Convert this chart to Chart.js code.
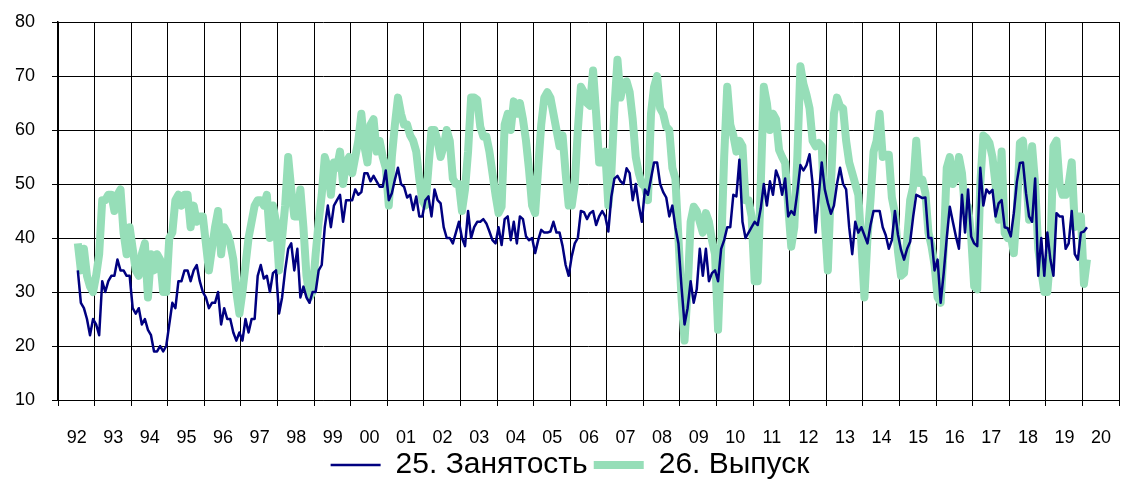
<!DOCTYPE html>
<html>
<head>
<meta charset="utf-8">
<script src="https://cdn.jsdelivr.net/npm/chart.js@4.4.0/dist/chart.umd.min.js"></script>
<style>
  body { margin: 0; background: #fff; }
</style>
</head>
<body>
<canvas id="myChart" width="1140" height="484"></canvas>
<script>
// series start in July 1992, one value per month
const firstYear = 1992;
const firstMonth = 7;
const lastYear = 2021;

const tickLabels = ['92','93','94','95','96','97','98','99','00','01','02','03','04','05',
  '06','07','08','09','10','11','12','13','14','15','16','17','18','19','20'];

const seriesNames = ['25. Занятость', '26. Выпуск'];

const employment = [
  34, 28, 27, 25, 22, 25,                                   // 1992
  24, 22, 32, 30, 32, 33, 33, 36, 34, 34, 33, 33,           // 1993
  27, 26, 27, 24, 25, 23, 22, 19, 19, 20, 19, 20,           // 1994
  24, 28, 27, 32, 32, 34, 34, 32, 34, 35, 32, 30,           // 1995
  29, 27, 28, 28, 30, 24, 27, 25, 25, 22.5, 21, 22.5,       // 1996
  21, 25, 22.5, 25, 25, 33, 35, 32.5, 33, 30, 33.5, 34,     // 1997
  26, 29, 34, 38, 39, 34, 38, 29, 31, 29, 28, 30,           // 1998
  30, 34, 35, 42, 46, 42, 46, 47, 48, 43, 47, 47,           // 1999
  47, 49, 48, 48.5, 52, 52, 50.5, 51.5, 50.5, 49.5, 49.5, 52.5, // 2000
  47, 48.3, 50.8, 53, 50, 49.5, 47.5, 48, 45.2, 47.7, 44, 44,   // 2001
  47, 47.7, 44, 49, 47, 46.4, 42, 40, 40, 39, 41, 43,       // 2002
  40, 38.5, 45, 40, 42, 43, 43, 43.5, 42.7, 41.2, 39.6, 39, // 2003
  42, 38.7, 43.5, 44, 39.6, 43, 39, 44, 43.5, 40.3, 39.6, 40, // 2004
  37.2, 39.6, 41.5, 41, 41, 41.2, 43, 41, 41, 38.5, 35, 33, // 2005
  36.6, 39, 40, 45, 44.8, 43.5, 44.6, 45, 42.4, 44, 45, 44, // 2006
  41.2, 47.7, 51, 51.5, 50.5, 50, 52.9, 52, 47, 50, 46, 43, // 2007
  49, 48, 51, 54, 54, 50, 48.5, 47.5, 44, 46, 42, 39,       // 2008
  31, 24, 27, 32, 28, 30.5, 38, 33, 38, 32, 33.5, 34,       // 2009
  32, 38, 39.6, 42, 42, 48, 47.7, 54.5, 43, 40, 41, 42,     // 2010
  43, 42.4, 45.5, 50, 46, 50.5, 48, 52.5, 51, 48, 51, 44,   // 2011
  45, 44.3, 48.5, 53.5, 52.5, 53.5, 55.5, 50, 41, 47.7, 54, 49, // 2012
  46.5, 44.5, 46, 50, 53, 50, 49, 42, 37, 43, 41, 42,       // 2013
  40.5, 39, 42.4, 45, 45, 45, 42, 40.5, 38, 39.6, 45, 40.6, // 2014
  37.8, 36, 38, 39.3, 44, 48, 47.7, 47.4, 47.5, 40, 40, 34, // 2015
  36, 28, 33.5, 40, 45.8, 43, 40.3, 38, 48, 41, 49, 40.3,   // 2016
  39, 38.5, 53, 46, 49, 48.3, 48.9, 44, 46.4, 47, 42, 41.8, // 2017
  40.3, 44.6, 50.4, 53.9, 54, 48.3, 44, 43, 51, 33, 40, 33, // 2018
  41, 36, 33, 44.6, 44, 44, 38, 39, 45, 37, 36, 41,         // 2019
  41.2, 42                                                  // 2020
];

const output = [
  39, 34, 38, 33, 31, 30,                                   // 1992
  33, 37, 47, 47, 48, 48, 45, 48, 49, 41, 37, 42,           // 1993
  38, 34, 33, 37, 39, 29, 37, 34, 37, 36, 30, 30,           // 1994
  40, 41, 47, 48, 46, 48, 48, 42, 46, 43, 44, 44,           // 1995
  39, 34, 38, 42, 45, 37, 42, 41, 39, 36, 30, 26,           // 1996
  30, 35, 40, 43, 46, 47, 47, 46, 48, 40, 46, 43,           // 1997
  34, 40, 46, 55, 49, 44, 44, 49, 42, 33, 29, 30,           // 1998
  37, 43, 48, 55, 53, 48, 54, 53, 56, 50, 54, 55,           // 1999
  52, 55, 58, 63, 57, 54, 61, 62, 56, 58, 55, 53,           // 2000
  46, 55, 61, 66, 63, 61, 61, 59, 58, 56, 51, 47,           // 2001
  46, 53, 60, 60, 58, 55, 57, 60, 58, 51, 50, 50,           // 2002
  45, 49, 56, 66, 66, 65.6, 60.6, 58.8, 58.8, 56, 52, 48,   // 2003
  44.6, 45.8, 61, 63, 60, 65.3, 63, 65, 62, 58, 52.6, 46,   // 2004
  44.6, 53, 61, 66, 67, 66, 63, 60, 57, 59, 52, 46,         // 2005
  46, 50, 60, 68, 67, 65, 64.5, 71, 63, 54, 54, 56,         // 2006
  46, 52, 64, 73, 66, 68.7, 69, 67, 62, 55, 52, 50,         // 2007
  49.5, 47, 63, 68, 70, 64, 63, 60.6, 60, 53, 51, 40,       // 2008
  29, 21, 30, 43, 45.8, 45, 43, 41, 44.6, 43, 39.6, 37,     // 2009
  23, 38, 55, 68, 61, 59, 56, 58, 57, 47, 47, 44,           // 2010
  32, 32, 50, 68, 65, 60, 63, 62, 56.3, 55, 53.9, 46,       // 2011
  38.4, 42, 55, 71.8, 68.5, 66.5, 64, 58, 57, 57.6, 57, 43, // 2012
  34, 49.5, 63, 66, 64.4, 64, 58, 54, 52, 50, 48, 39,       // 2013
  29, 40, 47, 56, 58, 63, 55, 55.4, 55.4, 47.5, 44.6, 37.5, // 2014
  33, 33.5, 39.6, 47, 49.5, 58, 50.2, 50.8, 48.3, 41, 38.5, 35, // 2015
  29, 28, 38, 53, 55, 50, 51, 55, 52, 45, 45.8, 40.3,       // 2016
  31, 30.5, 50, 59, 58.5, 57.6, 55, 50, 43.4, 56, 40.9, 40, // 2017
  40.5, 37.2, 45, 57.6, 58, 52, 43.4, 57, 50, 38, 34, 30,   // 2018
  30, 37, 57, 58, 50, 48, 48, 50, 54, 42, 44, 44,           // 2019
  31.5, 36                                                  // 2020
];

// month i -> position in years, middle of the month
const toPoints = vals => vals.map((v, i) => ({ x: firstYear + (firstMonth - 1 + i + 0.5) / 12, y: v }));

Chart.defaults.font.family = '"Liberation Sans", Arial, sans-serif';
Chart.defaults.color = '#000';

let myChart;

const setup = () => {
  const context = document.getElementById('myChart').getContext('2d');

  myChart = new Chart(context, {
    type: 'line',
    data: {
      datasets: [
        {
          label: seriesNames[0],
          data: toPoints(employment),
          borderColor: '#000080',
          backgroundColor: '#000080',
          borderWidth: 2.5,
          pointRadius: 0,
          tension: 0,
          borderJoinStyle: 'round'
        },
        {
          label: seriesNames[1],
          data: toPoints(output),
          borderColor: 'rgb(150,222,184)',
          backgroundColor: 'rgb(150,222,184)',
          borderWidth: 8,
          pointRadius: 0,
          tension: 0,
          borderJoinStyle: 'round'
        }
      ]
    },
    options: {
      responsive: false,
      animation: false,
      layout: { padding: { top: 22, left: 0, right: 0, bottom: -6 } },
      plugins: {
        tooltip: { enabled: false },
        legend: {
          position: 'bottom',
          labels: {
            usePointStyle: true,
            pointStyle: 'line',
            pointStyleWidth: 50,
            padding: 6,
            color: '#000',
            font: { size: 30 }
          }
        }
      },
      scales: {
        x: {
          type: 'linear',
          min: firstYear,
          max: lastYear,
          afterFit: s => { s.height = 44; },
          grid: { color: '#000', lineWidth: 1, tickLength: 6 },
          border: { color: '#000', width: 1 },
          ticks: {
            stepSize: 1,
            autoSkip: false,
            maxRotation: 0,
            labelOffset: 18.7,
            padding: 21,
            font: { size: 18 },
            callback: v => tickLabels[Math.round(v) - firstYear] ?? ''
          }
        },
        y: {
          min: 10,
          max: 80,
          // fixed axis width, top label allowed to sit in the layout padding
          afterFit: s => { s.width = 58; s.paddingTop = 0; },
          grid: { color: '#000', lineWidth: 1, tickLength: 6 },
          border: { color: '#000', width: 1.5 },
          ticks: { stepSize: 10, padding: 17, font: { size: 18 } }
        }
      }
    }
  });
};

window.addEventListener('DOMContentLoaded', setup);
</script>
</body>
</html>
